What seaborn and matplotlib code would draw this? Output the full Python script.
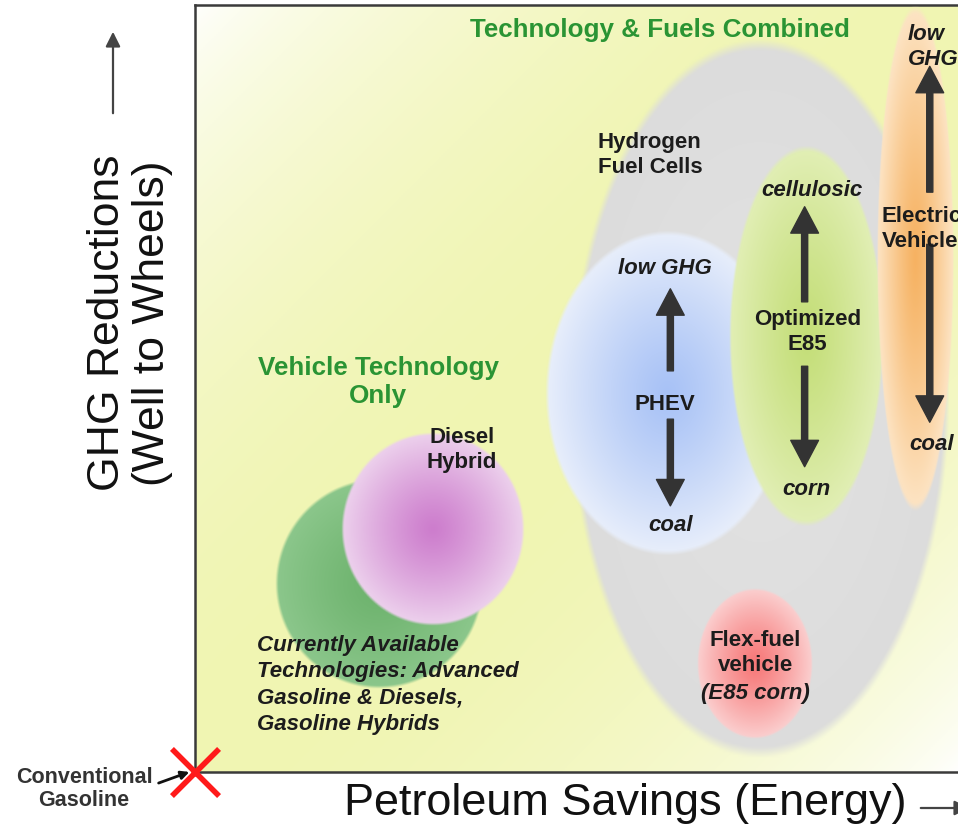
import numpy as np
import pandas as pd
import matplotlib
matplotlib.use('Agg')
import matplotlib.pyplot as plt
import matplotlib.colors as mcolors
import seaborn as sns

# technology bubbles: centre and extent, both axes on a 0-100 scale
techs = ['Technology & Fuels Combined', 'PHEV', 'Optimized E85', 'Electric Vehicle',
         'Flex-fuel vehicle', 'Currently Available', 'Diesel Hybrid']
savings_mid = [74.0, 61.9, 80.2, 94.4, 73.4, 24.1, 31.2]
ghg_mid = [48.6, 49.4, 56.8, 66.9, 14.1, 24.5, 31.6]
savings_span = [49.8, 32.0, 20.3, 10.0, 15.2, 27.3, 24.0]
ghg_span = [93.9, 42.4, 49.7, 66.0, 19.6, 27.4, 25.2]

# GHG range depending on the feedstock (coal/corn -> low GHG/cellulosic)
range_techs = ['PHEV', 'Optimized E85', 'Electric Vehicle']
range_savings = [62.3, 79.9, 96.3]
range_low = [34.7, 39.8, 45.6]
range_high = [63.0, 73.7, 92.0]
gap_low = [46.0, 52.9, 68.8]
gap_high = [52.3, 61.3, 75.6]

# conventional gasoline = the origin
baseline = pd.DataFrame({'savings': [0.0], 'ghg': [0.0]})

inner = {'Technology & Fuels Combined': '#e2e2e2', 'PHEV': '#a8c2f6',
         'Optimized E85': '#c4de78', 'Electric Vehicle': '#f6b262',
         'Flex-fuel vehicle': '#f77878', 'Currently Available': '#6cb26c',
         'Diesel Hybrid': '#cd7dcd'}
outer = {'Technology & Fuels Combined': '#dcdcdc', 'PHEV': '#e9effb',
         'Optimized E85': '#e2efb6', 'Electric Vehicle': '#fde5c6',
         'Flex-fuel vehicle': '#fbd0d0', 'Currently Available': '#8cc78c',
         'Diesel Hybrid': '#edd2ed'}

sns.set_theme(style='white')
plt.rcParams['font.family'] = ['Liberation Sans', 'DejaVu Sans']

W, H = 958, 828
fig = plt.figure(figsize=(W / 100, H / 100), dpi=100)
ax = fig.add_axes([195 / W, 55 / H, 763 / W, 767 / H])


def blob(x, y, w, h, c_in, c_out, z):
    g = np.linspace(-1, 1, 300)
    X, Y = np.meshgrid(g, g)
    r = np.sqrt(X ** 2 + Y ** 2)
    a = np.array(mcolors.to_rgb(c_in))
    b = np.array(mcolors.to_rgb(c_out))
    rgb = a + (b - a) * np.clip(r, 0, 1)[..., None] ** 1.2
    alpha = np.clip((1 - r) / 0.03, 0, 1)[..., None]
    img = np.concatenate([rgb, alpha], axis=2)
    ax.imshow(img, extent=(x - w / 2, x + w / 2, y - h / 2, y + h / 2),
              origin='lower', aspect='auto', interpolation='bilinear', zorder=z)


# background gradient
u, v = np.meshgrid(np.linspace(0, 1, 400), np.linspace(0, 1, 400))
s = (u + (1 - v)) / 2
f = np.sin(np.pi * s) ** 0.7
white = np.array([1.0, 1.0, 1.0])
yellow = np.array(mcolors.to_rgb('#f0f5b2'))
bg = white + (yellow - white) * f[..., None]
ax.imshow(bg, extent=(0, 100, 0, 100), origin='lower', aspect='auto', zorder=0)

for i, t in enumerate(techs):
    blob(savings_mid[i], ghg_mid[i], savings_span[i], ghg_span[i], inner[t], outer[t], 1 + i)

# feedstock arrows
arr = dict(arrowstyle='simple,head_width=1.0,head_length=0.95,tail_width=0.22',
           color='#333333', mutation_scale=20, shrinkA=0, shrinkB=0)
for i in range(len(range_techs)):
    x = range_savings[i]
    ax.annotate('', xy=(x, range_high[i]), xytext=(x, gap_high[i]), arrowprops=arr, zorder=20)
    ax.annotate('', xy=(x, range_low[i]), xytext=(x, gap_low[i]), arrowprops=arr, zorder=20)

dark = '#1c1c1c'
green = '#2a9434'
kw = dict(color=dark, fontsize=16, fontweight='bold', zorder=30, linespacing=1.26)
ax.text(60.9, 96.9, 'Technology & Fuels Combined', ha='center', va='center',
        color=green, fontsize=18.7, fontweight='bold', zorder=30)
ax.text(24.0, 51.0, 'Vehicle Technology\nOnly', ha='center', va='center',
        color=green, fontsize=18.7, fontweight='bold', zorder=30, linespacing=1.23)
ax.text(52.8, 80.6, 'Hydrogen\nFuel Cells', ha='left', va='center', **kw)
ax.text(90.0, 70.9, 'Electric\nVehicle', ha='left', va='center', **kw)
ax.text(93.4, 94.6, 'low\nGHG', ha='left', va='center', style='italic', **kw)
ax.text(80.9, 76.0, 'cellulosic', ha='center', va='center', style='italic', **kw)
ax.text(61.6, 65.8, 'low GHG', ha='center', va='center', style='italic', **kw)
ax.text(80.3, 57.5, 'Optimized\nE85', ha='center', va='center', **kw)
ax.text(61.6, 48.1, 'PHEV', ha='center', va='center', **kw)
ax.text(96.5, 42.8, 'coal', ha='center', va='center', style='italic', **kw)
ax.text(80.1, 36.9, 'corn', ha='center', va='center', style='italic', **kw)
ax.text(62.3, 32.3, 'coal', ha='center', va='center', style='italic', **kw)
ax.text(35.0, 42.1, 'Diesel\nHybrid', ha='center', va='center', **kw)
ax.text(73.4, 15.6, 'Flex-fuel\nvehicle', ha='center', va='center', **kw)
ax.text(73.4, 10.4, '(E85 corn)', ha='center', va='center', style='italic', **kw)
ax.text(8.1, 11.5, 'Currently Available\nTechnologies: Advanced\nGasoline & Diesels,\nGasoline Hybrids',
        ha='left', va='center', style='italic', color=dark, fontsize=16,
        fontweight='bold', zorder=30, linespacing=1.33)

# conventional gasoline marker
sns.scatterplot(data=baseline, x='savings', y='ghg', marker='x', s=1150, color='#ff1a1a',
                linewidth=4, ax=ax, zorder=40, legend=False)
ax.collections[-1].set_clip_on(False)

ax.set_xlim(0, 100)
ax.set_ylim(0, 100)
ax.set_xticks([])
ax.set_yticks([])
ax.set_xlabel('')
ax.set_ylabel('')
for side in ['left', 'top', 'bottom']:
    ax.spines[side].set_color('#3a3a3a')
    ax.spines[side].set_linewidth(1.8)
ax.spines['right'].set_visible(False)


def px(x, y):
    return (x, H - y)


fig.text(130 / W, 1 - 323 / H, 'GHG Reductions\n(Well to Wheels)', rotation=90,
         ha='center', va='center', fontsize=32, color='#111111', linespacing=1.1)
fig.text(625 / W, 1 - 804 / H, 'Petroleum Savings (Energy)', ha='center', va='center',
         fontsize=32.4, color='#111111')
fig.text(84 / W, 1 - 789 / H, 'Conventional\nGasoline', ha='center', va='center',
         fontsize=15.5, fontweight='bold', color='#333333', linespacing=1.15)

ax.annotate('', xy=px(113, 30), xytext=px(113, 117), xycoords='figure pixels',
            textcoords='figure pixels',
            arrowprops=dict(arrowstyle='-|>', color='#444444', lw=1.6, mutation_scale=22))
ax.annotate('', xy=px(972, 809), xytext=px(918, 809), xycoords='figure pixels',
            textcoords='figure pixels',
            arrowprops=dict(arrowstyle='-|>', color='#444444', lw=1.6, mutation_scale=22))
ax.annotate('', xy=px(192, 772), xytext=px(156, 785), xycoords='figure pixels',
            textcoords='figure pixels',
            arrowprops=dict(arrowstyle='-|>', color='#111111', lw=2, mutation_scale=12))

fig.savefig('out.png', dpi=100)
